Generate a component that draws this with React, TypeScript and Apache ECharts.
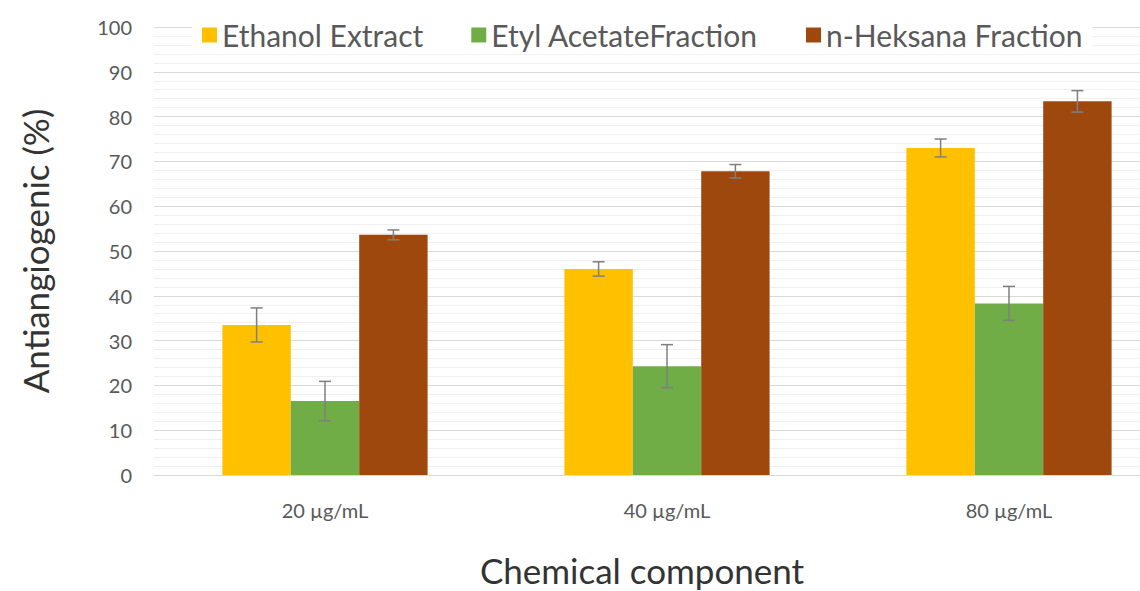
import React, { useEffect, useRef } from "react";
import * as echarts from "echarts";

const categories = ["20 µg/mL", "40 µg/mL", "80 µg/mL"];
const seriesNames = ["Ethanol Extract", "Etyl AcetateFraction", "n-Heksana Fraction"];
const ethanol = [33.5, 46, 73];
const ethyl = [16.5, 24.3, 38.3];
const heksana = [53.6, 67.8, 83.4];
const ethanolErr = [3.8, 1.6, 2.0];
const ethylErr = [4.4, 4.8, 3.8];
const heksanaErr = [1.1, 1.5, 2.4];
const colors = ["#FFC000", "#70AD47", "#9E480E"];
const yTicks = [0, 10, 20, 30, 40, 50, 60, 70, 80, 90, 100];
const xTitle = "Chemical component";
const yTitle = "Antiangiogenic (%)";

const values = [ethanol, ethyl, heksana];
const errors = [ethanolErr, ethylErr, heksanaErr];
const BAR_FRAC = 0.2;

export default function App() {
  const ref = useRef<HTMLDivElement>(null);
  useEffect(() => {
    const chart = echarts.init(ref.current!, undefined, { renderer: "svg" });
    const font = "Lato, 'Open Sans', sans-serif";
    const barSeries = seriesNames.map((name, i) => ({
      name,
      type: "bar",
      data: values[i],
      barWidth: BAR_FRAC * 100 + "%",
      barGap: "0%",
      itemStyle: { color: colors[i] },
      z: 2,
    }));
    const errSeries = seriesNames.map((name, i) => ({
      name: name + "_err",
      type: "custom",
      z: 5,
      data: values[i].map((v, j) => [j, v, errors[i][j]]),
      renderItem: (params: any, api: any) => {
        const c = api.value(0);
        const v = api.value(1);
        const e = api.value(2);
        const band = api.size([1, 0])[0];
        const off = (i - 1) * band * BAR_FRAC;
        const top = api.coord([c, v + e]);
        const bot = api.coord([c, v - e]);
        const x = top[0] + off;
        const cap = 6;
        const style = { stroke: "#7f7f7f", lineWidth: 1.5 };
        return {
          type: "group",
          children: [
            { type: "line", shape: { x1: x, y1: top[1], x2: x, y2: bot[1] }, style },
            { type: "line", shape: { x1: x - cap, y1: top[1], x2: x + cap, y2: top[1] }, style },
            { type: "line", shape: { x1: x - cap, y1: bot[1], x2: x + cap, y2: bot[1] }, style },
          ],
        };
      },
    }));
    chart.setOption({
      animation: false,
      backgroundColor: "#fff",
      textStyle: { fontFamily: font },
      legend: {
        data: seriesNames,
        top: 16,
        left: 192,
        itemWidth: 15,
        itemHeight: 15,
        itemGap: 48,
        icon: "rect",
        backgroundColor: "#fff",
        padding: [4, 10, 4, 10],
        textStyle: { fontSize: 30, color: "#595959", fontFamily: font },
      },
      grid: { left: 154, top: 27, width: 1026, height: 448, outerBoundsMode: "none", containLabel: false },
      graphic: [
        {
          type: "text",
          x: 642,
          y: 570,
          style: {
            text: xTitle,
            fontSize: 35,
            lineHeight: 36,
            fontFamily: font,
            fill: "#333",
            textAlign: "center",
            textVerticalAlign: "middle",
          },
        },
      ],
      xAxis: {
        type: "category",
        data: categories,
        axisTick: { show: false },
        axisLine: { lineStyle: { color: "#d9d9d9" } },
        axisLabel: { fontSize: 20, color: "#595959", margin: 25, fontFamily: font },
      },
      yAxis: {
        type: "value",
        min: yTicks[0],
        max: yTicks[yTicks.length - 1],
        interval: 10,
        axisLine: { show: false },
        axisTick: { show: false },
        axisLabel: { fontSize: 20, color: "#595959", margin: 22, fontFamily: font },
        splitLine: { lineStyle: { color: "#d9d9d9", width: 1 } },
        minorTick: { show: false, splitNumber: 5 },
        minorSplitLine: { show: true, lineStyle: { color: "#efefef", width: 1 } },
        name: yTitle,
        nameLocation: "middle",
        nameGap: 102,
        nameRotate: 90,
        nameTextStyle: { fontSize: 35, color: "#333", fontFamily: font },
      },
      series: [...barSeries, ...errSeries],
    });
    return () => chart.dispose();
  }, []);
  return (
    <div
      ref={ref}
      style={{ position: "fixed", left: 0, top: 0, width: 1140, height: 591 }}
    />
  );
}
